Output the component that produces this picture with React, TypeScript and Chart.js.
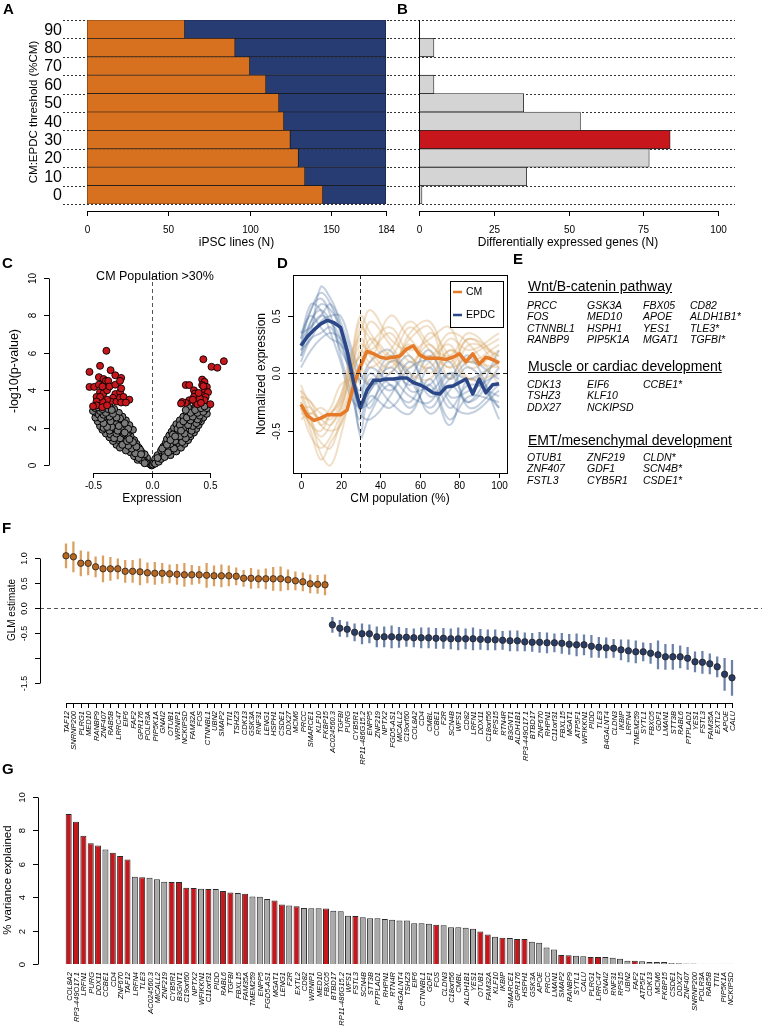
import React, { useEffect, useRef } from "react";
import { Chart, registerables } from "chart.js";
Chart.register(...registerables);

const W = 762;
const H = 1031;
const FONT = '"Liberation Sans", Arial, Helvetica, sans-serif';
const ORANGE = "#D8711F";
const NAVY = "#283C74";
const RED = "#C8171C";
const LIGHT = "#D4D4D4";
const MIDGRAY = "#A9A9A9";

// ---------------- Panel A / B data ----------------
const thresholds = ["90", "80", "70", "60", "50", "40", "30", "20", "10", "0"];
const cmLines = [60, 91, 100, 110, 118, 121, 125, 130, 134, 145];
const epdcLines = [124, 93, 84, 74, 66, 63, 59, 54, 50, 39];
const degCounts = [0, 5, 0, 5, 35, 54, 84, 77, 36, 1];
const selectedThreshold = "30";
const aTicks = [0, 50, 100, 150, 184];
const bTicks = [0, 25, 50, 75, 100];

// ---------------- Panel C data (volcano) ----------------
const volcanoNs: number[][] = [
  [0, 0], [-0.01, 0.05], [-0.02, 0.1], [-0.03, 0.2], [-0.05, 0.25], [-0.04, 0.4], [-0.07, 0.35], [-0.08, 0.5],
  [-0.1, 0.45], [-0.12, 0.6], [-0.06, 0.6], [-0.09, 0.75], [-0.14, 0.8], [-0.18, 0.7], [-0.11, 0.95], [-0.16, 1.0],
  [-0.2, 0.9], [-0.24, 1.0], [-0.13, 1.15], [-0.19, 1.2], [-0.26, 1.2], [-0.3, 1.1], [-0.15, 1.35], [-0.22, 1.4],
  [-0.28, 1.35], [-0.33, 1.3], [-0.18, 1.55], [-0.25, 1.6], [-0.31, 1.55], [-0.36, 1.5], [-0.2, 1.75], [-0.27, 1.8],
  [-0.34, 1.75], [-0.39, 1.7], [-0.16, 1.9], [-0.23, 1.95], [-0.3, 2.0], [-0.37, 1.95], [-0.42, 1.9], [-0.19, 2.15],
  [-0.26, 2.2], [-0.33, 2.2], [-0.4, 2.15], [-0.44, 2.1], [-0.22, 2.4], [-0.29, 2.4], [-0.36, 2.45], [-0.42, 2.4],
  [-0.46, 2.35], [-0.25, 2.6], [-0.31, 2.65], [-0.38, 2.65], [-0.44, 2.6], [-0.48, 2.55], [-0.28, 2.8], [-0.35, 2.85],
  [-0.41, 2.85], [-0.47, 2.8], [-0.32, 3.0], [-0.39, 3.05], [-0.45, 3.0], [-0.5, 2.9], [-0.43, 3.15], [-0.36, 3.15],
  [-0.12, 0.3], [-0.15, 0.5], [-0.22, 0.8], [-0.27, 0.95], [-0.1, 0.85], [-0.17, 1.1], [-0.23, 1.25], [-0.29, 1.5],
  [-0.35, 1.65], [-0.41, 2.0], [-0.24, 2.05], [-0.31, 2.3], [-0.39, 2.5], [-0.45, 2.7], [-0.33, 2.5], [-0.21, 1.6],
  [-0.26, 1.9], [-0.37, 2.3],
  [-0.05, 0.15], [-0.08, 0.25], [-0.11, 0.4], [-0.14, 0.65], [-0.17, 0.9], [-0.2, 1.05], [-0.25, 1.1], [-0.21, 1.3],
  [-0.27, 1.45], [-0.32, 1.45], [-0.24, 1.7], [-0.3, 1.7], [-0.36, 1.85], [-0.29, 1.85], [-0.2, 1.95], [-0.34, 2.05],
  [-0.38, 2.05], [-0.28, 2.1], [-0.23, 2.25], [-0.35, 2.35], [-0.41, 2.25], [-0.27, 2.5], [-0.43, 2.5], [-0.3, 2.55],
  [-0.36, 2.6], [-0.41, 2.7], [-0.33, 2.75], [-0.39, 2.8], [-0.44, 2.9], [-0.48, 3.05], [-0.42, 3.0], [-0.37, 3.0],
  [-0.46, 3.1], [-0.34, 2.95], [-0.06, 0.12], [-0.09, 0.6], [-0.13, 1.0], [-0.16, 1.25], [-0.19, 1.4], [-0.23, 1.75],
  [0.01, 0.05], [0.02, 0.15], [0.04, 0.25], [0.03, 0.35], [0.06, 0.3], [0.07, 0.45], [0.05, 0.55], [0.1, 0.5],
  [0.09, 0.65], [0.13, 0.6], [0.16, 0.55], [0.08, 0.8], [0.12, 0.85], [0.17, 0.8], [0.21, 0.75], [0.1, 1.0],
  [0.15, 1.05], [0.2, 1.0], [0.25, 0.95], [0.12, 1.2], [0.17, 1.25], [0.22, 1.2], [0.28, 1.15], [0.13, 1.4],
  [0.19, 1.45], [0.25, 1.4], [0.31, 1.35], [0.15, 1.6], [0.21, 1.65], [0.27, 1.6], [0.33, 1.55], [0.17, 1.8],
  [0.23, 1.85], [0.3, 1.8], [0.36, 1.75], [0.19, 2.0], [0.25, 2.05], [0.32, 2.0], [0.38, 1.95], [0.21, 2.2],
  [0.28, 2.25], [0.34, 2.2], [0.4, 2.15], [0.24, 2.4], [0.3, 2.45], [0.36, 2.4], [0.42, 2.35], [0.27, 2.6],
  [0.33, 2.65], [0.39, 2.6], [0.44, 2.55], [0.3, 2.8], [0.36, 2.85], [0.42, 2.8], [0.47, 2.75], [0.34, 3.0],
  [0.4, 3.0], [0.45, 2.95], [0.38, 3.15], [0.31, 3.1], [0.14, 0.95], [0.18, 1.1], [0.23, 1.35], [0.26, 1.75],
  [0.29, 1.95], [0.35, 2.3], [0.37, 2.55], [0.22, 1.5], [0.11, 0.7], [0.26, 2.1], [0.4, 2.4], [0.32, 1.65],
  [0.03, 0.1], [0.06, 0.2], [0.08, 0.35], [0.11, 0.45], [0.14, 0.7], [0.19, 0.9], [0.16, 1.15], [0.2, 1.3],
  [0.26, 1.25], [0.29, 1.45], [0.24, 1.55], [0.18, 1.65], [0.28, 1.7], [0.34, 1.85], [0.22, 1.95], [0.27, 2.0],
  [0.35, 2.1], [0.24, 2.15], [0.31, 2.15], [0.38, 2.25], [0.27, 2.35], [0.33, 2.4], [0.39, 2.45], [0.3, 2.55],
  [0.35, 2.6], [0.41, 2.65], [0.33, 2.8], [0.39, 2.8], [0.44, 2.85], [0.37, 2.95], [0.42, 3.05], [0.47, 3.05],
  [0.29, 2.95], [0.05, 0.4], [0.09, 0.9], [0.13, 1.1], [0.16, 1.35], [0.2, 1.55], [0.25, 1.85], [0.45, 3.15],
];
const volcanoSig: number[][] = [
  [-0.53, 4.98], [-0.53, 4.18], [-0.49, 4.18], [-0.44, 5.3], [-0.386, 6.1], [-0.35, 5.07], [-0.45, 4.7], [-0.41, 4.6],
  [-0.31, 4.8], [-0.45, 4.3], [-0.39, 4.5], [-0.37, 4.5], [-0.44, 3.9], [-0.47, 3.65], [-0.41, 3.85], [-0.38, 4.0],
  [-0.36, 4.2], [-0.31, 4.3], [-0.31, 3.8], [-0.27, 3.9], [-0.26, 4.1], [-0.33, 3.6], [-0.35, 3.4], [-0.38, 3.5],
  [-0.42, 3.4], [-0.44, 3.65], [-0.47, 3.4], [-0.47, 3.2], [-0.42, 3.1], [-0.38, 3.2], [-0.3, 3.4], [-0.27, 3.6],
  [-0.24, 3.65], [-0.26, 3.35], [-0.19, 3.5], [-0.26, 4.66], [-0.27, 4.5], [-0.42, 4.2], [-0.5, 3.15], [-0.22, 3.35],
  [0.44, 5.65], [0.51, 5.25], [0.56, 5.2], [0.615, 5.55], [0.43, 4.57], [0.45, 4.45], [0.43, 4.28], [0.47, 4.18],
  [0.45, 4.0], [0.48, 3.9], [0.43, 3.73], [0.46, 3.64], [0.45, 3.47], [0.5, 3.26], [0.29, 4.28], [0.32, 4.28],
  [0.36, 4.0], [0.37, 3.83], [0.36, 3.65], [0.37, 3.38], [0.39, 3.26], [0.32, 3.47], [0.29, 3.33], [0.26, 3.38],
  [0.25, 3.3], [0.35, 3.5], [0.41, 3.56], [0.42, 3.33], [0.4, 3.86], [0.44, 4.22],
];
const cYTicks = [0, 2, 4, 6, 8, 10];
const cXTicks = [-0.5, 0, 0.5];
const cXLabels = ["-0.5", "0.0", "0.5"];

// ---------------- Panel D data ----------------
const dThickX = [0, 3.3, 6.7, 10, 13.3, 16.7, 20, 23.3, 26.7, 30, 33.3, 36.7, 40, 43.3, 46.7, 50, 53.3, 56.7, 60, 63.3, 66.7, 70, 73.3, 76.7, 80, 83.3, 86.7, 90, 93.3, 96.7, 100];
const cmMean = [-0.27, -0.37, -0.41, -0.39, -0.36, -0.36, -0.36, -0.32, -0.1, 0.06, 0.19, 0.17, 0.14, 0.13, 0.14, 0.15, 0.21, 0.24, 0.16, 0.13, 0.13, 0.13, 0.12, 0.14, 0.17, 0.1, 0.17, 0.08, 0.14, 0.12, 0.09];
const epdcMean = [0.24, 0.32, 0.38, 0.43, 0.46, 0.44, 0.4, 0.2, -0.09, -0.3, -0.15, -0.06, -0.06, -0.05, -0.05, -0.04, -0.04, -0.08, -0.1, -0.13, -0.17, -0.18, -0.12, -0.11, -0.08, -0.05, -0.18, -0.05, -0.17, -0.1, -0.09];
const dThinX = [0, 5, 10, 15, 20, 25, 30, 35, 45, 55, 65, 75, 85, 100];
const epdcGenes: number[][] = [
  [0.3, 0.55, 0.7, 0.6, 0.35, 0.05, -0.25, -0.15, 0.05, -0.1, 0.15, -0.05, 0.1, -0.05],
  [0.25, 0.45, 0.6, 0.55, 0.4, 0.1, -0.35, -0.4, -0.2, 0.1, -0.15, 0.0, -0.25, 0.05],
  [0.2, 0.4, 0.5, 0.45, 0.3, 0.0, -0.15, 0.05, -0.1, -0.25, 0.05, -0.3, -0.1, -0.2],
  [0.15, 0.35, 0.75, 0.65, 0.45, 0.2, -0.1, -0.3, 0.1, 0.0, -0.35, -0.15, 0.05, -0.3],
  [0.35, 0.5, 0.4, 0.3, 0.25, -0.05, -0.5, -0.2, -0.3, -0.05, 0.2, -0.2, -0.15, 0.0],
  [0.1, 0.3, 0.35, 0.4, 0.2, 0.05, -0.05, 0.1, 0.2, -0.15, -0.1, 0.1, -0.3, -0.1],
  [0.25, 0.55, 0.65, 0.5, 0.15, -0.15, -0.4, -0.05, -0.25, -0.35, -0.05, -0.4, -0.2, -0.25],
  [0.2, 0.3, 0.45, 0.5, 0.5, 0.25, 0.0, -0.1, 0.0, 0.15, -0.2, -0.05, 0.15, -0.4],
  [0.3, 0.6, 0.55, 0.35, 0.1, -0.2, -0.3, -0.25, -0.05, -0.2, -0.25, 0.0, -0.05, 0.1],
  [0.05, 0.2, 0.3, 0.35, 0.3, 0.1, -0.2, 0.0, -0.15, 0.05, 0.1, -0.25, -0.35, -0.15],
  [0.15, 0.45, 0.55, 0.45, 0.25, 0.15, -0.55, -0.35, -0.1, -0.3, -0.1, -0.45, -0.05, -0.3],
  [0.35, 0.4, 0.5, 0.6, 0.4, 0.0, -0.3, -0.15, 0.15, -0.05, -0.3, -0.1, -0.25, 0.2],
];
const cmGenes: number[][] = [
  [-0.2, -0.4, -0.55, -0.45, -0.3, 0.0, 0.25, 0.2, 0.35, 0.1, 0.25, 0.05, 0.3, 0.05],
  [-0.3, -0.45, -0.6, -0.65, -0.4, -0.1, 0.4, 0.3, 0.1, 0.25, 0.0, 0.2, 0.1, 0.25],
  [-0.15, -0.25, -0.35, -0.4, -0.25, 0.05, 0.15, 0.45, 0.25, 0.05, 0.35, 0.15, -0.05, 0.1],
  [-0.25, -0.5, -0.75, -0.6, -0.45, -0.15, 0.2, 0.1, 0.5, 0.3, 0.15, 0.35, 0.25, -0.1],
  [-0.35, -0.35, -0.3, -0.35, -0.2, 0.1, 0.5, 0.35, 0.15, 0.4, 0.2, 0.05, 0.15, 0.3],
  [-0.1, -0.3, -0.4, -0.3, -0.1, -0.05, 0.05, -0.1, 0.1, -0.05, 0.1, 0.25, -0.05, 0.0],
  [-0.3, -0.55, -0.65, -0.55, -0.35, 0.0, 0.3, 0.15, 0.0, 0.35, 0.45, 0.1, 0.3, 0.15],
  [-0.2, -0.25, -0.45, -0.5, -0.45, -0.2, 0.1, 0.25, 0.4, 0.15, 0.05, 0.3, 0.2, 0.35],
  [-0.25, -0.45, -0.5, -0.35, -0.2, 0.15, 0.35, 0.55, 0.3, 0.2, 0.3, 0.4, 0.05, 0.2],
  [-0.4, -0.35, -0.4, -0.45, -0.3, -0.05, 0.15, 0.05, 0.2, 0.45, 0.25, 0.15, 0.35, 0.1],
  [-0.15, -0.4, -0.7, -0.8, -0.55, -0.2, 0.0, 0.3, 0.15, 0.0, -0.05, 0.2, 0.1, 0.05],
  [-0.3, -0.3, -0.45, -0.35, -0.25, 0.05, 0.45, 0.2, 0.05, 0.3, 0.4, -0.05, 0.25, 0.15],
];
const dXTicks = [0, 20, 40, 60, 80, 100];
const dYTicks = [-0.5, 0, 0.5];
const dYLabels = ["-0.5", "0.0", "0.5"];
const dThreshold = 30;

// ---------------- Panel E data ----------------
const eTitles = ["Wnt/B-catenin pathway", "Muscle or cardiac development", "EMT/mesenchymal development"];
const wntGenes = [
  ["PRCC", "GSK3A", "FBX05", "CD82"],
  ["FOS", "MED10", "APOE", "ALDH1B1*"],
  ["CTNNBL1", "HSPH1", "YES1", "TLE3*"],
  ["RANBP9", "PIP5K1A", "MGAT1", "TGFBI*"],
];
const muscleGenes = [
  ["CDK13", "EIF6", "CCBE1*"],
  ["TSHZ3", "KLF10"],
  ["DDX27", "NCKIPSD"],
];
const emtGenes = [
  ["OTUB1", "ZNF219", "CLDN*"],
  ["ZNF407", "GDF1", "SCN4B*"],
  ["FSTL3", "CYB5R1", "CSDE1*"],
];

// ---------------- Panel F data ----------------
const fGenes = ["TAF12", "SNRNP200", "PLRG1", "MED10", "RANBP9", "ZNF407", "RAB5B", "LRRC47", "EIF6", "FAF2", "GPR176", "POLR3A", "PIP5K1A", "GNAI2", "OTUB1", "WRNIP1", "NCKIPSD", "FAM32A", "FOS", "CTNNBL1", "UBN2", "SMAP2", "TTI1", "TSHZ3", "CDK13", "GSK3A", "RNF31", "LENG1", "HSPH1", "CSDE1", "DDX27", "MCM6", "PRCC", "SMARCE1", "KLF10", "FKBP15", "AC024560.3", "TGFBI", "PURG", "CYB5R1", "RP11-486G15.2", "ENPP5", "ZNF219", "NPTX2", "FGD5-AS1", "MICALL2", "C19orf60", "COL8A2", "CD4", "CMBL", "CCBE1", "F2R", "SCN4B", "WFS1", "CD82", "LRFN1", "DDX11", "C18orf56", "RPS15", "RTN4R", "B3GNT1", "ALDH1B1", "RP3-449O17.1", "BTBD17", "ZNF670", "RHPN1", "C11orf31", "FBXL15", "MGAT1", "ATP5F1", "WFIKKN1", "PIDD", "TLE3", "B4GALNT4", "CLDN3", "IKBIP", "LRFN4", "TMEM259", "SYTL1", "FBXO5", "GDF1", "LMAN1", "STT3B", "RABL6", "PTPLAD1", "YES1", "FSTL3", "FAM35A", "EXTL2", "APOE", "CALU"];
const fEstimates = [1.05, 1.03, 0.9, 0.9, 0.83, 0.79, 0.79, 0.79, 0.74, 0.74, 0.73, 0.71, 0.7, 0.7, 0.69, 0.68, 0.67, 0.67, 0.67, 0.66, 0.65, 0.65, 0.65, 0.64, 0.6, 0.6, 0.59, 0.59, 0.59, 0.59, 0.57, 0.55, 0.53, 0.49, 0.48, 0.47,
  -0.33, -0.4, -0.42, -0.48, -0.51, -0.51, -0.57, -0.57, -0.57, -0.58, -0.58, -0.59, -0.59, -0.59, -0.6, -0.6, -0.61, -0.61, -0.61, -0.61, -0.62, -0.63, -0.63, -0.64, -0.65, -0.65, -0.67, -0.68, -0.68, -0.69, -0.69, -0.7, -0.72, -0.73, -0.73, -0.76, -0.78, -0.79, -0.8, -0.83, -0.85, -0.87, -0.87, -0.9, -0.93, -0.97, -0.97, -0.97, -1.0, -1.07, -1.08, -1.11, -1.17, -1.32, -1.39];
const fErrors = [0.24, 0.3, 0.25, 0.23, 0.2, 0.26, 0.23, 0.2, 0.22, 0.22, 0.26, 0.2, 0.22, 0.2, 0.18, 0.2, 0.23, 0.19, 0.17, 0.24, 0.2, 0.22, 0.2, 0.17, 0.16, 0.2, 0.18, 0.2, 0.23, 0.24, 0.2, 0.18, 0.18, 0.18, 0.18, 0.2,
  0.15, 0.16, 0.15, 0.17, 0.2, 0.18, 0.2, 0.2, 0.22, 0.2, 0.18, 0.18, 0.2, 0.2, 0.2, 0.2, 0.2, 0.22, 0.2, 0.22, 0.2, 0.2, 0.2, 0.18, 0.2, 0.2, 0.18, 0.18, 0.2, 0.2, 0.18, 0.2, 0.2, 0.22, 0.2, 0.22, 0.2, 0.2, 0.18, 0.2, 0.22, 0.22, 0.18, 0.2, 0.28, 0.25, 0.25, 0.22, 0.22, 0.2, 0.22, 0.2, 0.2, 0.32, 0.35];
const fYTicks = [-1.5, -1, -0.5, 0, 0.5, 1];
const fYLabels = ["-1.5", "", "-0.5", "0.0", "0.5", "1.0"];

// ---------------- Panel G data ----------------
const gGenes = ["COL8A2", "RP3-449O17.1", "LRFN1", "PURG", "DDX11", "CCBE1", "CD4", "ZNF670", "TAF12", "LRFN4", "TLE3", "AC024560.3", "MICALL2", "ZNF219", "CYB5R1", "B3GNT1", "C19orf60", "NPTX2", "WFIKKN1", "C11orf31", "PIDD", "RABL6", "TGFBI", "FBXL15", "FAM35A", "TMEM259", "ENPP5", "FGD5-AS1", "MGAT1", "LENG1", "F2R", "EXTL2", "CD82", "WRNIP1", "MED10", "FBXO5", "BTBD17", "RP11-486G15.2", "WFS1", "FSTL3", "SCN4B", "STT3B", "PTPLAD1", "RHPN1", "RTN4R", "B4GALNT4", "TSHZ3", "EIF6", "CTNNBL1", "GDF1", "FOS", "CLDN3", "C18orf56", "CMBL", "ALDH1B1", "YES1", "OTUB1", "FAM32A", "KLF10", "IKBIP", "SMARCE1", "GPR176", "HSPH1", "GSK3A", "APOE", "PRCC", "LMAN1", "SMAP2", "RANBP9", "SYTL1", "CALU", "PLRG1", "LRRC47", "GNAI2", "RNF31", "RPS15", "UBN2", "FAF2", "ATP5F1", "CDK13", "MCM6", "FKBP15", "CSDE1", "DDX27", "ZNF407", "SNRNP200", "POLR3A", "RAB5B", "TTI1", "PIP5K1A", "NCKIPSD"];
const gVariance = [8.97, 8.5, 7.67, 7.21, 7.09, 6.85, 6.65, 6.46, 6.24, 5.22, 5.18, 5.16, 5.06, 4.92, 4.9, 4.9, 4.56, 4.54, 4.5, 4.48, 4.48, 4.36, 4.28, 4.24, 4.2, 4.04, 4.02, 3.88, 3.8, 3.55, 3.5, 3.45, 3.35, 3.33, 3.33, 3.31, 3.19, 3.15, 2.89, 2.87, 2.79, 2.73, 2.73, 2.69, 2.65, 2.6, 2.6, 2.43, 2.43, 2.4, 2.35, 2.31, 2.19, 2.19, 2.17, 2.11, 1.95, 1.77, 1.63, 1.57, 1.55, 1.5, 1.5, 1.33, 1.27, 0.98, 0.86, 0.54, 0.52, 0.5, 0.46, 0.42, 0.42, 0.42, 0.38, 0.32, 0.2, 0.2, 0.16, 0.12, 0.12, 0.12, 0.06, 0.04, 0.03, 0.03, 0.02, 0.02, 0.02, 0.02, 0.02];
const gHighlighted = ["COL8A2", "RP3-449O17.1", "LRFN1", "PURG", "DDX11", "CD4", "ZNF670", "TAF12", "TLE3", "CYB5R1", "B3GNT1", "C19orf60", "NPTX2", "C11orf31", "RABL6", "TGFBI", "FAM35A", "MGAT1", "LENG1", "EXTL2", "FBXO5", "FSTL3", "FOS", "OTUB1", "FAM32A", "IKBIP", "GPR176", "HSPH1", "SMAP2", "RANBP9", "PLRG1", "LRRC47", "FAF2"];
const gYTicks = [0, 2, 4, 6, 8, 10];

// ---------------- drawing helpers ----------------
function txt(ctx: any, s: string, x: number, y: number, o: any = {}) {
  const { size = 10, align = "center", baseline = "middle", rot = 0, italic = false, bold = false, color = "#000" } = o;
  ctx.save();
  ctx.translate(x, y);
  if (rot) ctx.rotate(rot);
  ctx.font = `${italic ? "italic " : ""}${bold ? "bold " : ""}${size}px ${FONT}`;
  ctx.fillStyle = color;
  ctx.textAlign = align;
  ctx.textBaseline = baseline;
  ctx.fillText(s, 0, 0);
  ctx.restore();
}
function seg(ctx: any, x1: number, y1: number, x2: number, y2: number, color = "#000", width = 1, dash: number[] = []) {
  ctx.save();
  ctx.strokeStyle = color;
  ctx.lineWidth = width;
  ctx.setLineDash(dash);
  ctx.beginPath();
  ctx.moveTo(x1, y1);
  ctx.lineTo(x2, y2);
  ctx.stroke();
  ctx.restore();
}
function axisBottom(ctx: any, scale: any, vals: number[], labels: string[], y: number, labelY: number, size = 10) {
  const px = vals.map((v) => Math.round(scale.getPixelForValue(v)) + 0.5);
  seg(ctx, px[0], y + 0.5, px[px.length - 1], y + 0.5);
  px.forEach((p) => seg(ctx, p, y, p, y + 5));
  labels.forEach((l, i) => l && txt(ctx, l, px[i], labelY, { size }));
}
function axisLeft(ctx: any, scale: any, vals: number[], labels: string[], x: number, labelX: number, size = 10) {
  const py = vals.map((v) => Math.round(scale.getPixelForValue(v)) + 0.5);
  seg(ctx, x + 0.5, Math.min(...py), x + 0.5, Math.max(...py));
  py.forEach((p) => seg(ctx, x - 5, p, x, p));
  labels.forEach((l, i) => l && txt(ctx, l, labelX, py[i], { size, rot: -Math.PI / 2 }));
}
function pad(l: number, t: number, r: number, b: number) {
  return { left: l, top: t, right: W - r, bottom: H - b };
}
function baseOpts(p: any, scales: any, extra: any = {}) {
  return {
    responsive: false,
    maintainAspectRatio: false,
    animation: false,
    devicePixelRatio: 1,
    events: [],
    layout: { padding: p },
    plugins: { legend: { display: false }, tooltip: { enabled: false }, title: { display: false } },
    scales,
    ...extra,
  };
}
function rowRules(chart: any, x1: number, x2: number) {
  const { top, bottom } = chart.chartArea;
  const n = thresholds.length;
  for (let i = 0; i <= n; i++) {
    const y = Math.round(top + (i * (bottom - top)) / n) + 0.5;
    seg(chart.ctx, x1, y, x2, y, "#333", 1, [2, 2]);
  }
}

// ---------------- chart configs ----------------
function configA() {
  return {
    type: "bar",
    data: {
      labels: thresholds,
      datasets: [
        { label: "CM", data: cmLines, backgroundColor: ORANGE, borderColor: "#1a1a1a", borderWidth: 0.7, borderSkipped: false, barPercentage: 1, categoryPercentage: 1 },
        { label: "EPDC", data: epdcLines, backgroundColor: NAVY, borderColor: "#1a1a1a", borderWidth: 0.7, borderSkipped: false, barPercentage: 1, categoryPercentage: 1 },
      ],
    },
    options: baseOpts(pad(87, 20, 386, 204), {
      x: { display: false, stacked: true, min: 0, max: 184 },
      y: { display: false, stacked: true },
    }, { indexAxis: "y" }),
    plugins: [{
      id: "pa",
      beforeDatasetsDraw(c: any) { rowRules(c, 63, 392); },
      afterDraw(c: any) {
        const ctx = c.ctx;
        thresholds.forEach((t, i) => txt(ctx, t, 62, c.scales.y.getPixelForValue(i) + 1, { size: 16, align: "right" }));
        axisBottom(ctx, c.scales.x, aTicks, aTicks.map(String), 211, 230);
        txt(ctx, "iPSC lines (N)", 236.5, 243, { size: 12 });
        txt(ctx, "CM:EPDC threshold (%CM)", 34, 112, { size: 11.5, rot: -Math.PI / 2 });
      },
    }],
  };
}
function configB() {
  return {
    type: "bar",
    data: {
      labels: thresholds,
      datasets: [{
        label: "DEG", data: degCounts,
        backgroundColor: thresholds.map((t) => (t === selectedThreshold ? RED : LIGHT)),
        borderColor: "#222", borderWidth: 0.8, borderSkipped: false, barPercentage: 1, categoryPercentage: 1,
      }],
    },
    options: baseOpts(pad(419, 20, 718, 204), {
      x: { display: false, min: 0, max: 100 },
      y: { display: false },
    }, { indexAxis: "y" }),
    plugins: [{
      id: "pb",
      beforeDatasetsDraw(c: any) { rowRules(c, 390, 735); },
      afterDraw(c: any) {
        const ctx = c.ctx;
        seg(ctx, 419.5, c.chartArea.top, 419.5, c.chartArea.bottom, "#000", 1);
        axisBottom(ctx, c.scales.x, bTicks, bTicks.map(String), 211, 230);
        txt(ctx, "Differentially expressed genes (N)", 568, 243, { size: 12 });
      },
    }],
  };
}
function configC() {
  return {
    type: "scatter",
    data: {
      datasets: [
        { data: volcanoSig.map(([x, y]) => ({ x, y })), backgroundColor: RED, borderColor: "#000", borderWidth: 0.9, pointRadius: 3.5 },
        { data: volcanoNs.map(([x, y]) => ({ x, y })), backgroundColor: "#7a7a7a", borderColor: "#000", borderWidth: 1, pointRadius: 3.5 },
      ],
    },
    options: baseOpts(pad(49, 270, 262, 473), {
      x: { display: false, type: "linear", min: -0.875, max: 0.94 },
      y: { display: false, min: -0.4, max: 10.4 },
    }),
    plugins: [{
      id: "pc",
      beforeDatasetsDraw(c: any) {
        const x = Math.round(c.scales.x.getPixelForValue(0)) + 0.5;
        seg(c.ctx, x, c.chartArea.top + 5, x, c.chartArea.bottom, "#555", 1, [4, 3]);
      },
      afterDraw(c: any) {
        const ctx = c.ctx;
        axisLeft(ctx, c.scales.y, cYTicks, cYTicks.map(String), 49, 33);
        axisBottom(ctx, c.scales.x, cXTicks, cXLabels, 473, 486);
        txt(ctx, "CM Population >30%", 155, 277, { size: 12.5 });
        txt(ctx, "Expression", 152, 499, { size: 12 });
        txt(ctx, "-log10(p-value)", 15, 371, { size: 12.5, rot: -Math.PI / 2 });
      },
    }],
  };
}
function configD() {
  const thin = (arr: number[][], color: string) => arr.map((row) => ({
    data: row.map((y, i) => ({ x: dThinX[i], y })), borderColor: color, borderWidth: 2, pointRadius: 0, tension: 0.4, fill: false,
  }));
  return {
    type: "line",
    data: {
      datasets: [
        { data: epdcMean.map((y, i) => ({ x: dThickX[i], y })), borderColor: "#2B4788", borderWidth: 3.5, pointRadius: 0, tension: 0, fill: false, borderJoinStyle: "round" },
        { data: cmMean.map((y, i) => ({ x: dThickX[i], y })), borderColor: "#E57A28", borderWidth: 3.5, pointRadius: 0, tension: 0, fill: false, borderJoinStyle: "round" },
        ...thin(cmGenes, "rgba(212,160,90,0.33)"),
        ...thin(epdcGenes, "rgba(60,100,150,0.3)"),
      ],
    },
    options: baseOpts(pad(293, 275, 507, 473), {
      x: { display: false, type: "linear", min: -4, max: 104 },
      y: { display: false, min: -0.867, max: 0.855 },
    }),
    plugins: [{
      id: "pd",
      afterDatasetsDraw(c: any) {
        const ctx = c.ctx;
        const { left, right, top, bottom } = c.chartArea;
        const y0 = Math.round(c.scales.y.getPixelForValue(0)) + 0.5;
        const xt = Math.round(c.scales.x.getPixelForValue(dThreshold)) + 0.5;
        seg(ctx, left, y0, right, y0, "#222", 1, [4, 3]);
        seg(ctx, xt, top, xt, bottom, "#222", 1, [4, 3]);
      },
      afterDraw(c: any) {
        const ctx = c.ctx;
        const { left, right, top, bottom } = c.chartArea;
        ctx.save();
        ctx.strokeStyle = "#000";
        ctx.lineWidth = 1;
        ctx.strokeRect(Math.round(left) + 0.5, Math.round(top) + 0.5, Math.round(right - left), Math.round(bottom - top));
        ctx.restore();
        const px = dXTicks.map((v) => Math.round(c.scales.x.getPixelForValue(v)) + 0.5);
        px.forEach((p, i) => { seg(ctx, p, bottom, p, bottom + 5); txt(ctx, String(dXTicks[i]), p, 486); });
        const py = dYTicks.map((v) => Math.round(c.scales.y.getPixelForValue(v)) + 0.5);
        py.forEach((p, i) => { seg(ctx, left - 5, p, left, p); txt(ctx, dYLabels[i], 277, p, { rot: -Math.PI / 2 }); });
        txt(ctx, "CM population (%)", 400, 499, { size: 12 });
        txt(ctx, "Normalized expression", 262, 374, { size: 12, rot: -Math.PI / 2 });
        // legend
        ctx.save();
        ctx.fillStyle = "#fff";
        ctx.fillRect(450.5, 281.5, 53, 46);
        ctx.strokeStyle = "#000";
        ctx.lineWidth = 1;
        ctx.strokeRect(450.5, 281.5, 53, 46);
        ctx.restore();
        seg(ctx, 453, 292, 462, 292, "#E57A28", 2.5);
        txt(ctx, "CM", 466, 292, { size: 10.5, align: "left" });
        seg(ctx, 453, 315, 462, 315, "#2B4788", 2.5);
        txt(ctx, "EPDC", 466, 315, { size: 10.5, align: "left" });
      },
    }],
  };
}
function configF() {
  const ptColor = fEstimates.map((v) => (v > 0 ? "#B9661E" : "#2A3C64"));
  const barColor = fEstimates.map((v) => (v > 0 ? "rgba(205,128,45,0.75)" : "rgba(45,75,130,0.7)"));
  return {
    type: "bar",
    data: {
      labels: fGenes,
      datasets: [
        { type: "line", data: fEstimates, showLine: false, pointRadius: 3.2, pointBackgroundColor: ptColor, pointBorderColor: "#222", pointBorderWidth: 0.8, order: 0 },
        { type: "bar", data: fEstimates.map((v, i) => [v - fErrors[i], v + fErrors[i]]), backgroundColor: barColor, barThickness: 1.6, borderWidth: 0, order: 1 },
      ],
    },
    options: baseOpts(pad(62.3, 533, 735.7, 703), {
      x: { display: false, offset: true },
      y: { display: false, min: -1.894, max: 1.506 },
    }),
    plugins: [{
      id: "pf",
      beforeDatasetsDraw(c: any) {
        const y0 = Math.round(c.scales.y.getPixelForValue(0)) + 0.5;
        seg(c.ctx, 40, y0, 762, y0, "#555", 1, [4, 3]);
      },
      afterDraw(c: any) {
        const ctx = c.ctx;
        axisLeft(ctx, c.scales.y, fYTicks, fYLabels, 40, 25, 9);
        txt(ctx, "GLM estimate", 12, 610, { size: 10, rot: -Math.PI / 2 });
        const px = fGenes.map((_, i) => Math.round(c.scales.x.getPixelForValue(i)) + 0.5);
        seg(ctx, px[0], 703.5, px[px.length - 1], 703.5);
        px.forEach((p, i) => {
          seg(ctx, p, 703, p, 708);
          txt(ctx, fGenes[i], p, 711, { size: 7.5, italic: true, align: "right", rot: -Math.PI / 2 });
        });
      },
    }],
  };
}
function configG() {
  return {
    type: "bar",
    data: {
      labels: gGenes,
      datasets: [{
        data: gVariance,
        backgroundColor: gGenes.map((g) => (gHighlighted.includes(g) ? RED : MIDGRAY)),
        borderColor: "#2a2a2a", borderWidth: 1, borderSkipped: "start", barPercentage: 0.82, categoryPercentage: 1,
      }],
    },
    options: baseOpts(pad(65, 790, 734, 964), {
      x: { display: false },
      y: { display: false, min: 0, max: 10.4 },
    }),
    plugins: [{
      id: "pg",
      afterDraw(c: any) {
        const ctx = c.ctx;
        axisLeft(ctx, c.scales.y, gYTicks, gYTicks.map(String), 38, 22, 9.5);
        txt(ctx, "% variance explained", 8, 880, { size: 11.5, rot: -Math.PI / 2 });
        gGenes.forEach((g, i) => {
          const p = Math.round(c.scales.x.getPixelForValue(i)) + 0.5;
          txt(ctx, g, p, 972, { size: 7.5, italic: true, align: "right", rot: -Math.PI / 2 });
        });
      },
    }],
  };
}

function ChartLayer({ make }: { make: () => any }) {
  const ref = useRef<HTMLCanvasElement>(null);
  useEffect(() => {
    const chart = new Chart(ref.current as HTMLCanvasElement, make());
    return () => chart.destroy();
  }, []);
  return <canvas ref={ref} width={W} height={H} style={{ position: "absolute", left: 0, top: 0, width: W, height: H }} />;
}

function PanelE() {
  const cols = [527, 587, 643, 690];
  const blocks = [
    { title: eTitles[0], rows: wntGenes, ty: 286, ry: 304.5, step: 11.5 },
    { title: eTitles[1], rows: muscleGenes, ty: 366, ry: 384, step: 11.4 },
    { title: eTitles[2], rows: emtGenes, ty: 440, ry: 456.8, step: 11.6 },
  ];
  return (
    <>
      {blocks.map((b, bi) => (
        <React.Fragment key={bi}>
          <div style={{ position: "absolute", left: 528, top: b.ty - 9, fontFamily: FONT, fontSize: 14, lineHeight: "18px", textDecoration: "underline", whiteSpace: "nowrap", color: "#000" }}>{b.title}</div>
          {b.rows.map((r, ri) => r.map((g, gi) => (
            <div key={`${bi}-${ri}-${gi}`} style={{ position: "absolute", left: cols[gi], top: b.ry + ri * b.step - 6, fontFamily: FONT, fontSize: 10.5, lineHeight: "12px", fontStyle: "italic", whiteSpace: "nowrap", color: "#000" }}>{g}</div>
          )))}
        </React.Fragment>
      ))}
    </>
  );
}

const panelLetters: [string, number, number][] = [["A", 3, 1], ["B", 397, 1], ["C", 2, 255], ["D", 277, 255], ["E", 513, 251], ["F", 2, 520], ["G", 2, 761]];

export default function App() {
  return (
    <div style={{ position: "absolute", left: 0, top: 0, width: W, height: H, background: "#fff", overflow: "hidden" }}>
      <ChartLayer make={configA} />
      <ChartLayer make={configB} />
      <ChartLayer make={configC} />
      <ChartLayer make={configD} />
      <ChartLayer make={configF} />
      <ChartLayer make={configG} />
      <PanelE />
      {panelLetters.map(([l, x, y]) => (
        <div key={l} style={{ position: "absolute", left: x, top: y, fontFamily: FONT, fontWeight: "bold", fontSize: 15, lineHeight: "15px" }}>{l}</div>
      ))}
    </div>
  );
}
